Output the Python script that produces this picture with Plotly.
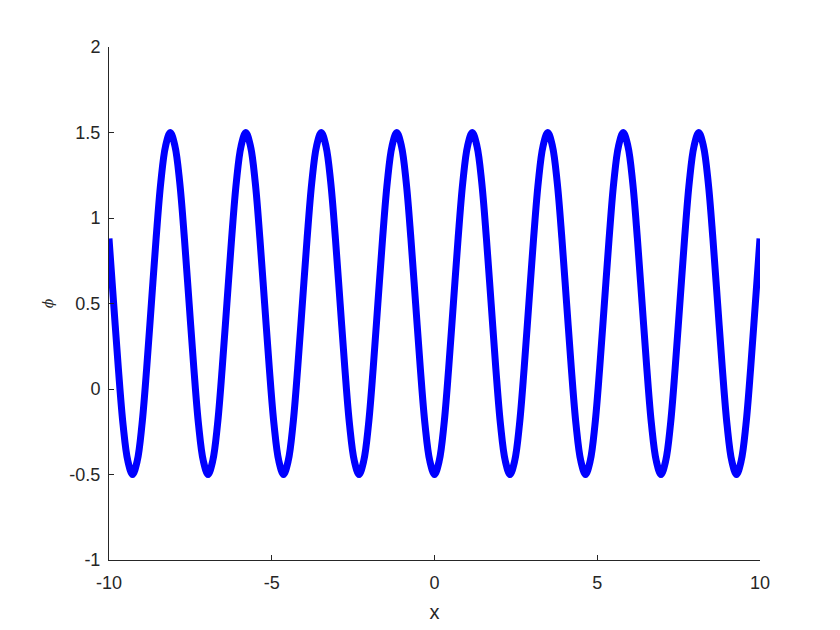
import plotly.graph_objects as go

# Values (right half, x >= 0); the curve is mirror-symmetric about x = 0
x_pos = [0.000, 0.145, 0.290, 0.435, 0.580, 0.725, 0.870, 1.015, 1.160, 1.305, 1.450,
         1.595, 1.740, 1.884, 2.029, 2.174, 2.319, 2.464, 2.609, 2.754, 2.899, 3.044,
         3.189, 3.334, 3.479, 3.624, 3.769, 3.914, 4.059, 4.204, 4.349, 4.494, 4.639,
         4.784, 4.929, 5.074, 5.219, 5.364, 5.508, 5.653, 5.798, 5.943, 6.088, 6.233,
         6.378, 6.523, 6.668, 6.813, 6.958, 7.103, 7.248, 7.393, 7.538, 7.683, 7.828,
         7.973, 8.118, 8.263, 8.408, 8.553, 8.698, 8.843, 8.988, 9.132, 9.277, 9.422,
         9.567, 9.712, 9.857, 10.0]
phi_pos = [-0.5, -0.42, -0.21, 0.12, 0.5, 0.88, 1.21, 1.42, 1.5, 1.42, 1.21, 0.88, 0.5, 0.12, -0.21, -0.42,
           -0.5, -0.42, -0.21, 0.12, 0.5, 0.88, 1.21, 1.42, 1.5, 1.42, 1.21, 0.88, 0.5, 0.12, -0.21, -0.42,
           -0.5, -0.42, -0.21, 0.12, 0.5, 0.88, 1.21, 1.42, 1.5, 1.42, 1.21, 0.88, 0.5, 0.12, -0.21, -0.42,
           -0.5, -0.42, -0.21, 0.12, 0.5, 0.88, 1.21, 1.42, 1.5, 1.42, 1.21, 0.88, 0.5, 0.12, -0.21, -0.42,
           -0.5, -0.42, -0.21, 0.12, 0.5, 0.88]

x_vals = [-v for v in reversed(x_pos[1:])] + x_pos
phi_vals = list(reversed(phi_pos[1:])) + phi_pos

x_ticks = [-10, -5, 0, 5, 10]
x_tick_labels = ["-10", "-5", "0", "5", "10"]
y_ticks = [-1, -0.5, 0, 0.5, 1, 1.5, 2]
y_tick_labels = ["-1", "-0.5", "0", "0.5", "1", "1.5", "2"]

fig = go.Figure()
fig.add_trace(go.Scatter(
    x=x_vals, y=phi_vals, mode="lines",
    line=dict(color="#0000FF", width=7, shape="spline", smoothing=1.0),
    showlegend=False, hoverinfo="skip"))

axis_common = dict(
    showgrid=False, zeroline=False, showline=True, linecolor="#262626",
    linewidth=1, ticks="inside", ticklen=5, tickcolor="#262626",
    tickfont=dict(family="Liberation Sans, Arial, sans-serif", size=18, color="#262626"),
    mirror=False,
)

fig.update_layout(
    width=840, height=630,
    paper_bgcolor="white", plot_bgcolor="white",
    margin=dict(l=101, r=88, t=39, b=78),
    xaxis=dict(range=[-10, 10], tickvals=x_ticks, ticktext=x_tick_labels,
               ticklabelstandoff=6,
               title=dict(text="x", font=dict(family="Liberation Sans, Arial, sans-serif",
                                              size=20, color="#262626"), standoff=13),
               **axis_common),
    yaxis=dict(range=[-1, 2], tickvals=y_ticks, ticktext=y_tick_labels,
               ticklabelstandoff=4,
               title=dict(text="<i>ϕ</i>", font=dict(family="DejaVu Serif, serif",
                                                    size=14, color="#262626"), standoff=12),
               **axis_common),
)

fig.write_html("out.html")
